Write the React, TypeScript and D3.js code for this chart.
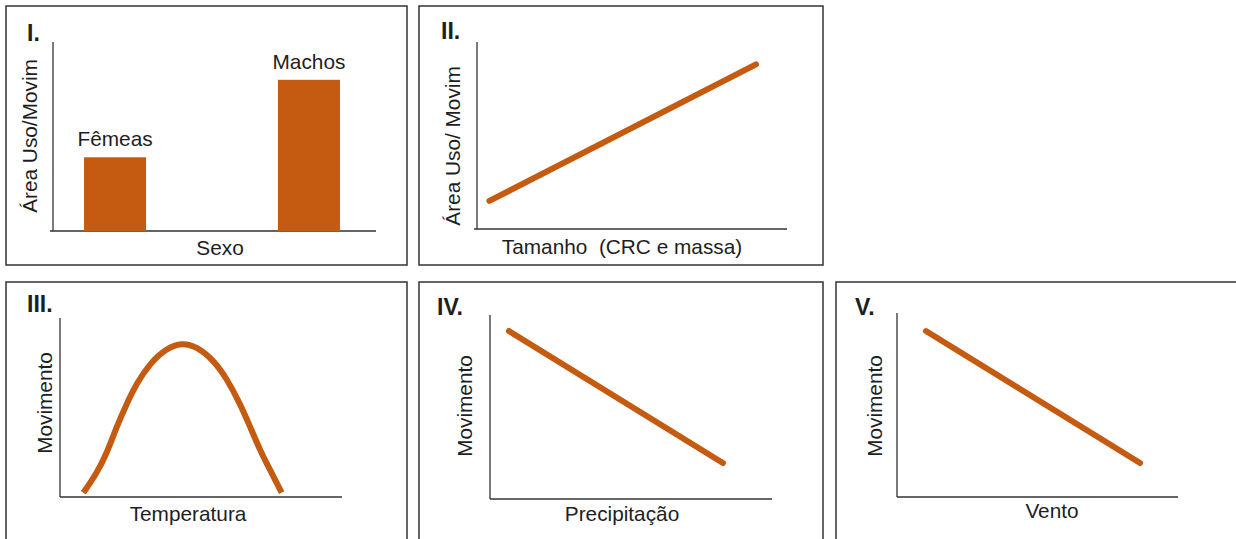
import React from "react";
import * as d3 from "d3";

// ---- Data ----
const sexCategories = ["Fêmeas", "Machos"];
const sexValues = [39, 80];

const sizeX = [4, 90];
const sizeY = [15, 88];

const tempX = [8.3, 13.0, 16.6, 20.1, 23.7, 27.2, 31.9, 37.8, 43.2, 48.5, 54.4, 59.1, 63.8, 67.4, 70.9, 74.5, 78.6];
const tempY = [2.4, 13.2, 24.4, 39.3, 52.3, 63.5, 74.7, 83.1, 86.2, 84.0, 76.5, 66.3, 52.3, 39.3, 26.3, 15.1, 2.4];

const precipX = [6.7, 82.6];
const precipY = [91.3, 19.6];

const windX = [10.3, 86.5];
const windY = [90.2, 18.5];

const panelTitles = ["I.", "II.", "III.", "IV.", "V."];
const yLabels = ["Área Uso/Movim", "Área Uso/ Movim", "Movimento", "Movimento", "Movimento"];
const xLabels = ["Sexo", "Tamanho  (CRC e massa)", "Temperatura", "Precipitação", "Vento"];

// ---- Style ----
const ORANGE = "#C55A11";
const AXIS = "#333";
const TEXT = "#1e1e1e";
const FONT = "'Liberation Sans', Arial, Helvetica, sans-serif";
const FS = 20.8;

type Layout = {
  box: [number, number, number, number];
  ax: number; ay0: number; ay1: number; bx1: number; bx0: number;
  title: [number, number];
  yl: [number, number];
  xl: [number, number];
};

const layouts: Layout[] = [
  { box: [6, 6, 401, 259], ax: 53, ay0: 231, ay1: 42, bx0: 50, bx1: 376, title: [27, 41], yl: [37, 136], xl: [220, 255] },
  { box: [419, 6, 404, 259], ax: 477, ay0: 229, ay1: 42, bx0: 474, bx1: 787, title: [441, 39], yl: [460, 146], xl: [622, 254] },
  { box: [6, 282, 401, 300], ax: 60, ay0: 497, ay1: 318, bx0: 60, bx1: 342, title: [27, 312], yl: [52, 403], xl: [188, 521] },
  { box: [419, 282, 404, 300], ax: 490, ay0: 499, ay1: 315, bx0: 490, bx1: 772, title: [437, 315], yl: [472, 406], xl: [622, 521] },
  { box: [836, 282, 500, 300], ax: 897, ay0: 497, ay1: 313, bx0: 897, bx1: 1178, title: [855, 315], yl: [882, 406], xl: [1052, 518] },
];

function Frame({ i }: { i: number }) {
  const L = layouts[i];
  return (
    <g>
      <rect x={L.box[0]} y={L.box[1]} width={L.box[2]} height={L.box[3]} fill="#fff" stroke={AXIS} strokeWidth={1.5} />
      <line x1={L.ax} x2={L.ax} y1={L.ay1} y2={L.ay0} stroke={AXIS} strokeWidth={1.3} />
      <line x1={L.bx0} x2={L.bx1} y1={L.ay0} y2={L.ay0} stroke={AXIS} strokeWidth={1.3} />
      <text x={L.title[0]} y={L.title[1]} fontSize={23} fontWeight="bold" fill={TEXT}>{panelTitles[i]}</text>
      <text transform={`translate(${L.yl[0]},${L.yl[1]}) rotate(-90)`} textAnchor="middle" fontSize={FS} fill={TEXT} style={{ whiteSpace: "pre" }}>{yLabels[i]}</text>
      <text x={L.xl[0]} y={L.xl[1]} textAnchor="middle" fontSize={FS} fill={TEXT} style={{ whiteSpace: "pre" }}>{xLabels[i]}</text>
    </g>
  );
}

function LinePanel({ i, xs, ys, curve, cap }: { i: number; xs: number[]; ys: number[]; curve: any; cap: "round" | "butt" }) {
  const L = layouts[i];
  const x = d3.scaleLinear().domain([0, 100]).range([L.ax, L.bx1]);
  const y = d3.scaleLinear().domain([0, 100]).range([L.ay0, L.ay1]);
  const pts = xs.map((v, k) => [v, ys[k]] as [number, number]);
  const path = d3.line<[number, number]>().x((d) => x(d[0])).y((d) => y(d[1])).curve(curve)(pts) || "";
  return (
    <g>
      <Frame i={i} />
      <path d={path} fill="none" stroke={ORANGE} strokeWidth={6} strokeLinecap={cap} strokeLinejoin="round" />
    </g>
  );
}

function BarPanel() {
  const L = layouts[0];
  const x = d3.scaleBand<string>().domain(sexCategories).range([53, 371]).paddingInner(0.68).paddingOuter(0.16);
  const y = d3.scaleLinear().domain([0, 100]).range([L.ay0, L.ay1]);
  return (
    <g>
      <Frame i={0} />
      {sexCategories.map((c, k) => (
        <g key={c}>
          <rect x={x(c)!} y={y(sexValues[k])} width={x.bandwidth()} height={y(0) - y(sexValues[k])} fill={ORANGE} />
          <text x={x(c)! + x.bandwidth() / 2} y={y(sexValues[k]) - 11} textAnchor="middle" fontSize={FS} fill={TEXT}>{c}</text>
        </g>
      ))}
    </g>
  );
}

export default function App() {
  return (
    <svg width={1236} height={539} style={{ position: "absolute", left: 0, top: 0, display: "block", background: "#fff" }} fontFamily={FONT}>
      <rect x={0} y={0} width={1236} height={539} fill="#fff" />
      <BarPanel />
      <LinePanel i={1} xs={sizeX} ys={sizeY} curve={d3.curveLinear} cap="round" />
      <LinePanel i={2} xs={tempX} ys={tempY} curve={d3.curveBasis} cap="butt" />
      <LinePanel i={3} xs={precipX} ys={precipY} curve={d3.curveLinear} cap="round" />
      <LinePanel i={4} xs={windX} ys={windY} curve={d3.curveLinear} cap="round" />
    </svg>
  );
}
